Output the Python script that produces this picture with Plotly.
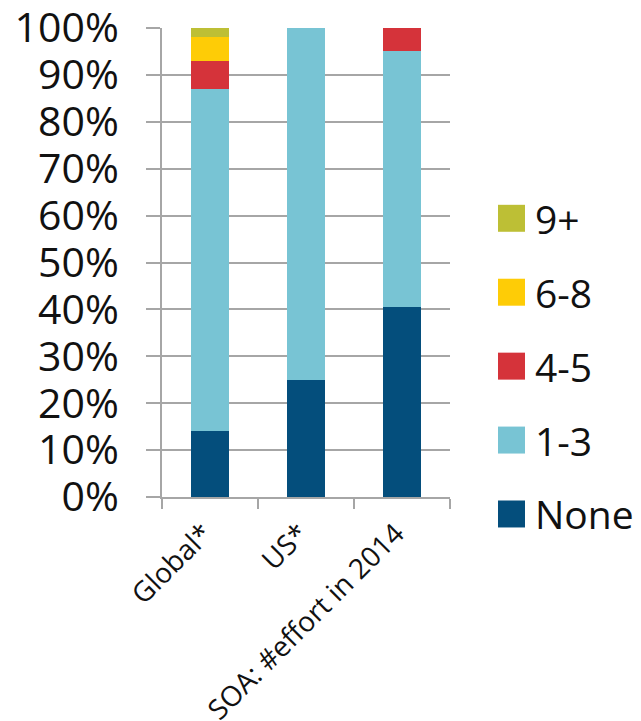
import plotly.graph_objects as go

categories = ["Global*", "US*", "SOA: #effort in 2014"]
series_names = ["None", "1-3", "4-5", "6-8", "9+"]
none_vals = [14, 25, 40.5]
one_three_vals = [73, 75, 54.5]
four_five_vals = [6, 0, 5]
six_eight_vals = [5, 0, 0]
nine_plus_vals = [2, 0, 0]
colors = ["#044E7C", "#78C4D4", "#D5333A", "#FECC06", "#BDBF35"]

values = [none_vals, one_three_vals, four_five_vals, six_eight_vals, nine_plus_vals]

FONT = "Open Sans"
OFF = 8  # page body margin
fig = go.Figure()
for name, vals, col in zip(series_names, values, colors):
    fig.add_trace(go.Bar(x=categories, y=vals, name=name, marker=dict(color=col, line=dict(width=0)),
                         width=0.4, showlegend=False))

# custom legend (large squares), built from series list
plot_h = 469.5
plot_w = 288.0
centers_px = [514, 440, 366, 292, 218]  # pixel centers, bottom to top
for name, col, cy in zip(series_names, colors, centers_px):
    yc = (497 - cy) / plot_h
    half = 13.5 / plot_h
    fig.add_shape(type="rect", xref="paper", yref="paper",
                  x0=(498 - 162) / plot_w, x1=(525 - 162) / plot_w,
                  y0=yc - half, y1=yc + half, fillcolor=col, line=dict(width=0), layer="above")
    fig.add_annotation(xref="paper", yref="paper", x=(533 - 162) / plot_w, y=yc,
                       text=name, showarrow=False, xanchor="left", yanchor="middle",
                       font=dict(family=FONT, size=39, color="#111111"))

W, H = 641 - OFF, 721 - OFF
fig.update_layout(
    barmode="stack",
    width=W, height=H,
    margin=dict(l=162 - OFF, r=641 - 450, t=27.5 - OFF, b=721 - 497, pad=0, autoexpand=False),
    plot_bgcolor="white", paper_bgcolor="white",
    font=dict(family=FONT, color="#111111"),
    showlegend=False,
    bargap=0.6,
)
fig.update_yaxes(range=[0, 100], dtick=10, ticksuffix="%", showgrid=True, automargin=False,
                 gridcolor="#A6A6A6", gridwidth=2, ticks="outside", ticklen=14,
                 tickcolor="#A6A6A6", tickwidth=2, showline=True, linecolor="#A6A6A6",
                 linewidth=2, zeroline=False, ticklabelstandoff=19, ticklabeloverflow="allow",
                 tickfont=dict(family=FONT, size=41, color="#111111"))
fig.update_xaxes(ticks="outside", tickson="boundaries", ticklen=10, tickcolor="#A6A6A6",
                 tickwidth=2, showline=True, linecolor="#A6A6A6", linewidth=2, automargin=False,
                 ticklabeloverflow="allow", ticklabelstandoff=7, ticklabelshift=-6,
                 tickangle=-45, tickfont=dict(family=FONT, size=28, color="#111111"))

fig.write_html("out.html")
